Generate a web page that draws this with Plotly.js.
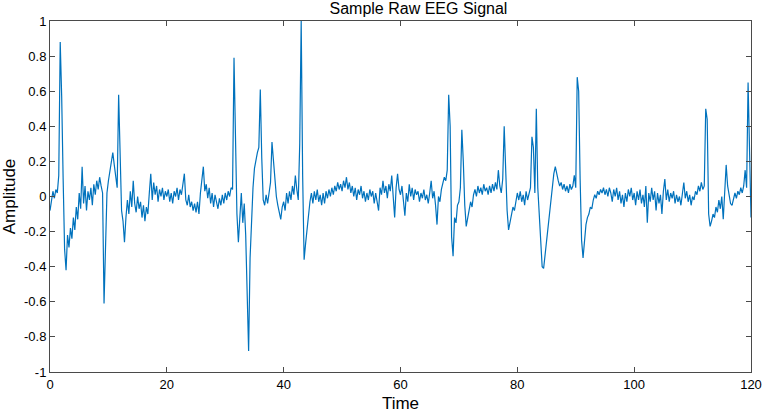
<!DOCTYPE html>
<html>
<head>
<meta charset="utf-8">
<script src="https://cdn.plot.ly/plotly-3.0.1.min.js"></script>
<style>html,body{margin:0;padding:0;background:#fff;}#chart{width:762px;height:415px;}</style>
</head>
<body>
<div id="chart"></div>
<script>
// Sampling interval of the hand-read trace (seconds)
const sampleStep = 0.25;

// Amplitude values, one per 0.25 s, grouped in 5 s blocks
const amp_0_20 = [
  -0.08,-0.02,0.03,-0.01,0.04,0.02,0.12,0.88,0.57,0.10,-0.30,-0.42,-0.22,-0.29,-0.18,-0.24,-0.12,-0.19,-0.06,-0.13,
  0.02,-0.07,0.17,-0.04,0.06,-0.08,0.03,-0.02,0.05,-0.05,0.07,0.01,0.09,0.04,0.11,0.06,0.02,-0.61,-0.20,0.02,
  0.09,0.14,0.19,0.25,0.18,0.12,0.05,0.58,0.30,-0.08,-0.14,-0.26,-0.12,-0.02,-0.10,0.03,-0.06,0.09,-0.04,-0.09,
  0.00,-0.07,-0.03,-0.12,-0.05,-0.14,-0.06,-0.10,0.02,0.13,-0.02,0.08,0.01,0.06,-0.03,0.04,0.00,0.05,-0.02,0.03
];
const amp_20_40 = [
  0.00,0.04,-0.03,0.02,-0.04,0.03,0.00,0.05,-0.02,0.04,0.01,0.06,0.13,-0.02,-0.05,0.01,-0.06,-0.03,-0.08,-0.04,
  -0.09,-0.03,-0.10,0.02,0.08,0.17,0.03,0.07,-0.01,0.05,-0.04,0.02,-0.06,0.01,-0.03,-0.07,-0.01,-0.05,0.01,-0.04,
  0.02,-0.02,0.03,0.00,0.05,0.04,0.79,0.38,-0.10,-0.26,-0.08,0.02,-0.15,-0.04,-0.22,-0.55,-0.88,-0.35,-0.10,0.05,
  0.16,0.21,0.25,0.28,0.61,0.22,-0.02,-0.05,0.01,-0.04,0.03,0.08,0.31,0.20,0.06,0.00,-0.05,-0.09,-0.13,-0.06
];
const amp_40_60 = [
  -0.03,-0.08,0.02,-0.04,0.03,-0.02,0.06,0.01,0.12,0.04,-0.02,0.30,1.00,0.12,-0.36,-0.27,-0.18,-0.12,-0.03,0.02,
  -0.04,0.03,-0.02,0.04,-0.03,0.01,-0.05,0.02,-0.04,0.03,-0.01,0.04,0.00,0.05,0.01,0.06,0.03,0.08,0.04,0.07,
  0.03,0.09,0.05,0.11,0.04,0.08,0.02,0.06,0.00,0.05,-0.02,0.04,0.01,0.06,-0.01,0.03,-0.03,0.02,-0.02,0.04,
  0.00,0.03,-0.04,0.02,-0.02,-0.08,0.05,0.01,0.09,0.02,0.06,-0.01,0.07,0.03,0.12,0.02,-0.12,0.05,0.13,0.04
];
const amp_60_80 = [
  0.01,0.06,-0.02,-0.11,0.02,-0.03,0.07,0.00,0.05,-0.02,0.04,0.01,0.03,-0.03,0.02,-0.01,0.04,-0.02,0.01,-0.04,
  0.02,0.09,-0.01,0.03,-0.05,-0.16,0.00,-0.03,0.04,0.07,0.11,0.09,0.15,0.58,0.40,-0.23,-0.34,-0.12,-0.15,-0.05,
  -0.03,0.05,0.38,0.20,-0.05,-0.17,-0.12,-0.08,-0.03,-0.06,0.01,0.04,0.00,0.06,0.02,0.05,0.01,0.07,0.03,0.05,
  0.01,0.06,0.02,0.07,0.03,0.08,0.04,0.15,0.06,0.02,0.10,0.40,0.15,-0.08,-0.19,-0.14,-0.10,-0.06,-0.08,-0.03
];
const amp_80_100 = [
  0.02,-0.02,0.03,-0.03,0.01,-0.05,0.03,-0.02,0.02,0.05,0.34,0.28,0.02,0.50,0.05,-0.12,-0.30,-0.40,-0.41,-0.33,
  -0.25,-0.18,-0.10,-0.03,0.06,0.13,0.17,0.12,0.09,0.06,0.08,0.04,0.07,0.03,0.06,0.02,0.07,0.04,0.06,0.12,
  0.05,0.68,0.60,0.10,-0.25,-0.35,-0.26,-0.16,-0.12,-0.10,-0.06,-0.07,-0.02,0.01,-0.01,0.03,0.01,0.04,0.02,0.05,
  0.01,0.04,0.00,0.05,0.02,-0.03,0.04,0.00,0.05,-0.02,0.03,-0.04,0.01,-0.06,0.02,-0.03,0.04,0.00,0.05,-0.02
];
const amp_100_120 = [
  0.02,-0.05,0.03,-0.02,0.04,-0.04,0.01,-0.06,0.06,-0.15,0.02,-0.03,0.05,-0.02,0.03,-0.08,0.02,-0.04,0.01,-0.10,
  0.03,0.10,-0.02,0.04,-0.03,0.02,-0.01,0.03,-0.04,0.01,-0.03,0.00,-0.05,0.02,0.08,-0.01,0.03,-0.03,0.01,-0.05,
  0.00,-0.02,0.03,0.01,0.06,0.03,0.08,0.04,0.06,0.50,0.44,-0.10,-0.17,-0.14,-0.10,-0.12,-0.06,-0.09,-0.02,-0.07,
  0.00,-0.13,0.05,0.18,0.06,0.00,-0.04,-0.05,-0.02,0.02,-0.01,0.03,0.01,0.05,0.02,0.06,0.15,0.05,0.65,0.30,
  -0.12
];

// Tick labels
const xTickVals = [0, 20, 40, 60, 80, 100, 120];
const xTickText = ["0", "20", "40", "60", "80", "100", "120"];
const yTickVals = [-1, -0.8, -0.6, -0.4, -0.2, 0, 0.2, 0.4, 0.6, 0.8, 1];
const yTickText = ["-1", "-0.8", "-0.6", "-0.4", "-0.2", "0", "0.2", "0.4", "0.6", "0.8", "1"];

const amplitude = [].concat(amp_0_20, amp_20_40, amp_40_60, amp_60_80, amp_80_100, amp_100_120);
const time = amplitude.map((_, i) => i * sampleStep);

const axisColor = "#4a4a4a";
const fontFam = "Liberation Sans, Arial, sans-serif";

const trace = {
  x: time,
  y: amplitude,
  type: "scatter",
  mode: "lines",
  line: { color: "#0072BD", width: 1.2 },
  hoverinfo: "skip"
};

const layout = {
  width: 762,
  height: 415,
  margin: { l: 50, r: 11, t: 21, b: 43 },
  paper_bgcolor: "#ffffff",
  plot_bgcolor: "#ffffff",
  showlegend: false,
  font: { family: fontFam, color: "#000", size: 13 },
  title: {
    text: "Sample Raw EEG Signal",
    font: { family: fontFam, size: 16, color: "#000" },
    x: 0.5256, xref: "paper", xanchor: "center",
    y: 0.981, yref: "container", yanchor: "middle"
  },
  xaxis: {
    range: [0, 120],
    tickvals: xTickVals,
    ticktext: xTickText,
    ticks: "inside",
    ticklen: 5,
    tickcolor: axisColor,
    showline: true,
    linecolor: axisColor,
    linewidth: 1,
    mirror: "ticks",
    showgrid: false,
    zeroline: false,
    tickfont: { family: fontFam, size: 13, color: "#000" },
    title: { text: "Time", font: { family: fontFam, size: 17, color: "#000" }, standoff: 6 }
  },
  yaxis: {
    range: [-1, 1],
    tickvals: yTickVals,
    ticktext: yTickText,
    ticks: "inside",
    ticklen: 5,
    tickcolor: axisColor,
    showline: true,
    linecolor: axisColor,
    linewidth: 1,
    mirror: "ticks",
    showgrid: false,
    zeroline: false,
    tickfont: { family: fontFam, size: 13, color: "#000" },
    title: { text: "Amplitude", font: { family: fontFam, size: 17, color: "#000" }, standoff: 4 }
  }
};

Plotly.newPlot("chart", [trace], layout, { staticPlot: true, displayModeBar: false });
</script>
</body>
</html>
